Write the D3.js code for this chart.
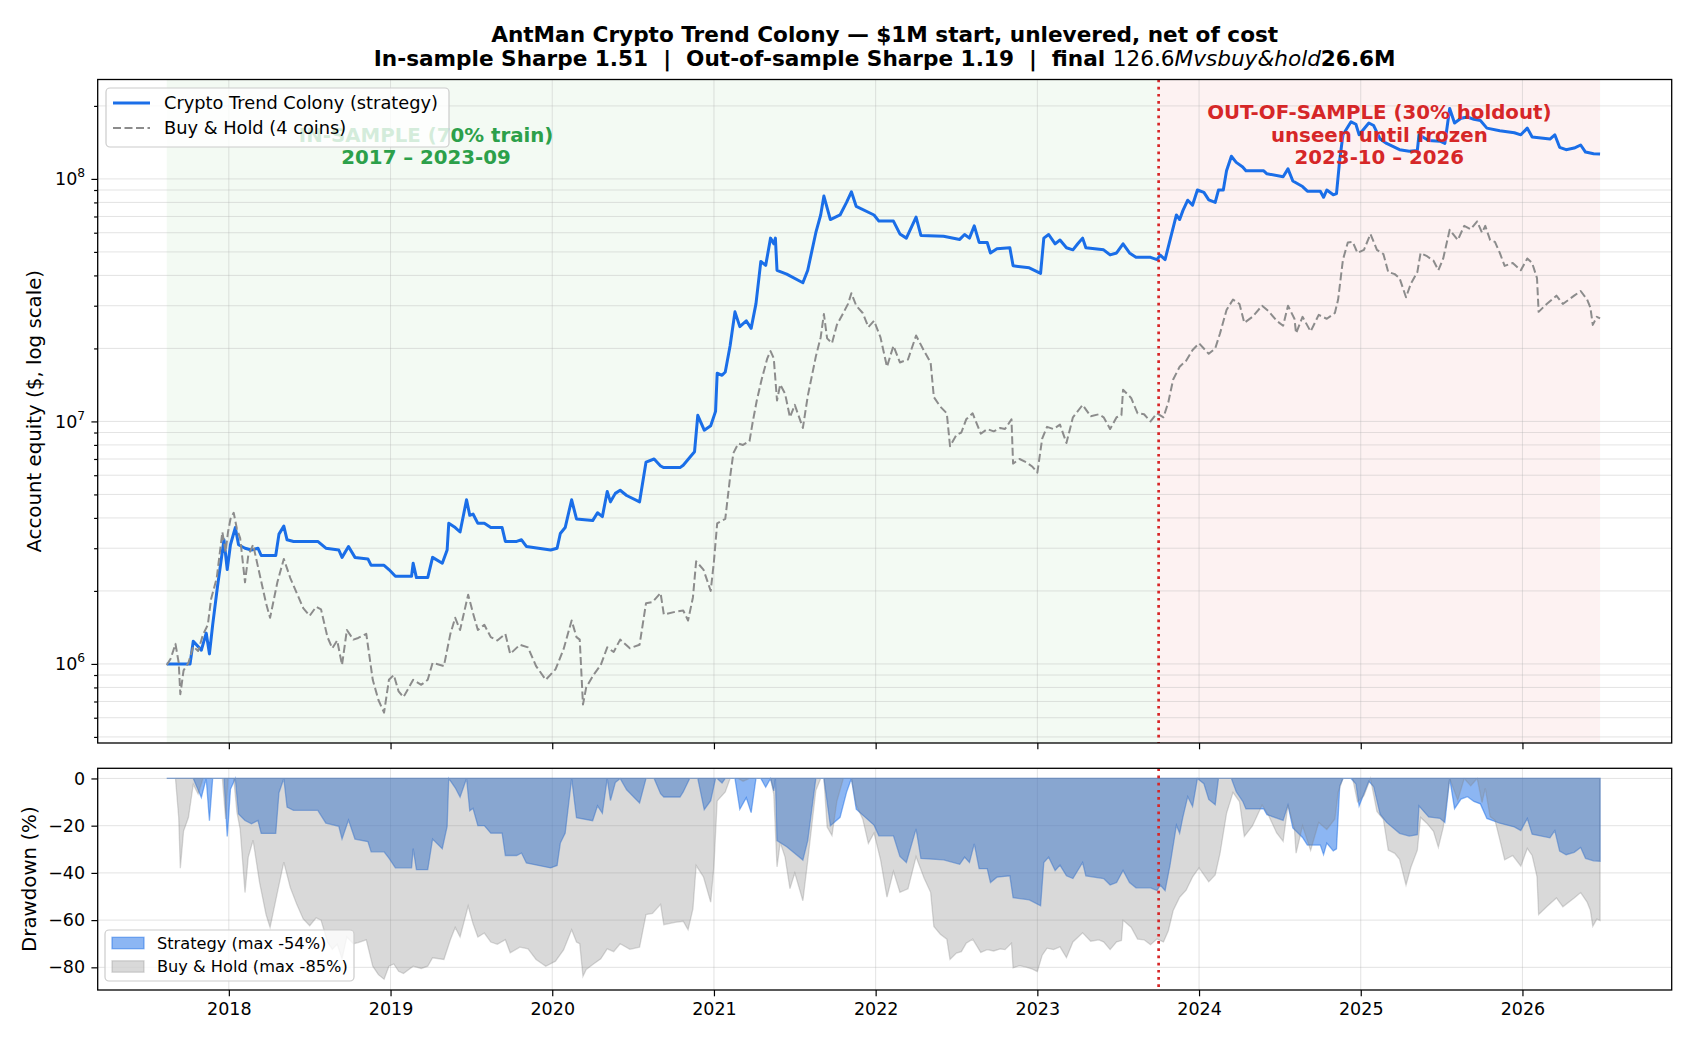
<!DOCTYPE html>
<html lang="en">
<head>
<meta charset="UTF-8">
<title>AntMan Crypto Trend Colony</title>
<script src="https://cdn.jsdelivr.net/npm/d3@7"></script>
<style>
  body { margin: 0; background: #fff; }
  svg text { font-family: "DejaVu Sans", sans-serif; }
</style>
</head>
<body>
<svg id="chart" width="1690" height="1040"></svg>
<script>
// ---- data (decimal years, equity in $M) ----
const stratYears = [2017.616,2017.76,2017.78,2017.83,2017.86,2017.88,2017.90,2017.93,2017.97,2017.99,
  2018.01,2018.04,2018.06,2018.10,2018.14,2018.18,2018.20,2018.29,2018.31,2018.34,
  2018.36,2018.40,2018.55,2018.60,2018.68,2018.70,2018.74,2018.78,2018.86,2018.88,
  2018.96,2018.99,2019.03,2019.13,2019.14,2019.16,2019.23,2019.26,2019.32,2019.35,
  2019.36,2019.40,2019.43,2019.47,2019.49,2019.51,2019.54,2019.58,2019.62,2019.69,
  2019.71,2019.78,2019.81,2019.84,2019.99,2020.03,2020.05,2020.08,2020.12,2020.15,
  2020.25,2020.28,2020.31,2020.34,2020.36,2020.39,2020.42,2020.46,2020.54,2020.58,
  2020.63,2020.67,2020.69,2020.79,2020.81,2020.85,2020.88,2020.90,2020.94,2020.98,
  2021.01,2021.02,2021.05,2021.07,2021.10,2021.13,2021.16,2021.20,2021.23,2021.26,
  2021.29,2021.32,2021.35,2021.37,2021.38,2021.39,2021.45,2021.55,2021.58,2021.63,
  2021.66,2021.68,2021.72,2021.78,2021.82,2021.85,2021.88,2021.99,2022.02,2022.11,
  2022.15,2022.19,2022.25,2022.28,2022.42,2022.52,2022.55,2022.58,2022.61,2022.64,
  2022.69,2022.71,2022.75,2022.83,2022.85,2022.95,2023.02,2023.04,2023.07,2023.11,
  2023.14,2023.18,2023.22,2023.25,2023.28,2023.30,2023.41,2023.45,2023.49,2023.53,
  2023.57,2023.61,2023.70,2023.74,2023.76,2023.79,2023.82,2023.86,2023.88,2023.90,
  2023.93,2023.96,2023.99,2024.03,2024.06,2024.10,2024.12,2024.15,2024.17,2024.20,
  2024.23,2024.27,2024.29,2024.40,2024.42,2024.52,2024.55,2024.58,2024.64,2024.67,
  2024.75,2024.77,2024.79,2024.83,2024.85,2024.87,2024.89,2024.94,2024.97,2024.99,
  2025.05,2025.08,2025.12,2025.16,2025.24,2025.30,2025.35,2025.36,2025.42,2025.49,
  2025.52,2025.55,2025.58,2025.62,2025.66,2025.70,2025.74,2025.78,2025.86,2025.95,
  2025.99,2026.03,2026.06,2026.17,2026.20,2026.23,2026.27,2026.32,2026.36,2026.39,
  2026.44,2026.48];
const stratEquityM = [1.00,1.00,1.24,1.14,1.34,1.10,1.45,2.09,3.25,2.45,
  3.10,3.65,3.10,3.00,2.95,3.00,2.80,2.80,3.43,3.70,
  3.25,3.20,3.20,3.00,2.95,2.75,3.05,2.75,2.71,2.55,
  2.55,2.45,2.30,2.30,2.60,2.27,2.27,2.75,2.60,2.95,
  3.80,3.65,3.50,4.75,4.10,4.15,3.80,3.80,3.65,3.65,
  3.20,3.20,3.25,3.05,2.95,3.00,3.45,3.65,4.75,3.96,
  3.90,4.20,4.05,5.14,4.66,5.05,5.20,4.95,4.66,6.80,
  7.00,6.55,6.45,6.45,6.60,7.10,7.50,10.6,9.2,9.6,
  11.0,15.8,15.5,16.0,20.5,28.3,24.6,26.0,24.2,30.6,
  45.7,44.0,57.0,54.0,57.0,42.0,40.5,37.3,42.0,60.0,
  71.0,85.0,68.0,71.0,80.0,88.5,77.0,71.0,67.0,67.0,
  59.3,57.0,69.6,58.5,58.0,56.3,59.0,57.0,64.0,54.7,
  54.7,49.5,51.5,52.0,43.8,43.0,40.8,57.0,59.0,54.0,
  56.0,52.0,51.0,54.0,57.0,52.0,51.0,48.6,49.5,54.0,
  49.5,47.5,47.5,46.5,48.5,46.5,55.8,71.0,68.0,74.0,
  81.7,78.0,90.0,88.0,82.0,80.0,90.0,90.0,108,124,
  117,112,108,108,105,102,110,98,93,89,
  89,84,90,86,87,120,152,172,168,152,
  170,166,146,140,132,130,131,152,144,143,
  140,195,170,178,180,176,174,162,158,155,
  152,162,149,146,152,135,132,134,138,129,
  127,126.6];

const holdYears = [2017.616,2017.64,2017.67,2017.69,2017.70,2017.72,2017.75,2017.78,2017.81,2017.84,
  2017.87,2017.89,2017.925,2017.96,2017.98,2017.995,2018.01,2018.03,2018.05,2018.07,
  2018.10,2018.12,2018.15,2018.19,2018.23,2018.255,2018.30,2018.34,2018.38,2018.42,
  2018.46,2018.50,2018.54,2018.57,2018.61,2018.64,2018.67,2018.70,2018.73,2018.77,
  2018.80,2018.85,2018.89,2018.925,2018.96,2018.99,2019.02,2019.05,2019.08,2019.14,
  2019.19,2019.23,2019.26,2019.33,2019.37,2019.40,2019.43,2019.48,2019.51,2019.54,
  2019.58,2019.62,2019.66,2019.71,2019.74,2019.80,2019.85,2019.90,2019.96,2020.02,
  2020.07,2020.12,2020.15,2020.17,2020.19,2020.21,2020.255,2020.30,2020.34,2020.38,
  2020.42,2020.48,2020.54,2020.58,2020.62,2020.67,2020.69,2020.76,2020.81,2020.84,
  2020.87,2020.89,2020.935,2020.98,2021.00,2021.02,2021.07,2021.10,2021.12,2021.15,
  2021.18,2021.22,2021.24,2021.265,2021.295,2021.33,2021.35,2021.37,2021.39,2021.41,
  2021.44,2021.47,2021.50,2021.55,2021.58,2021.63,2021.66,2021.68,2021.70,2021.73,
  2021.76,2021.80,2021.83,2021.85,2021.88,2021.92,2021.955,2021.99,2022.03,2022.07,
  2022.11,2022.15,2022.20,2022.25,2022.30,2022.34,2022.36,2022.40,2022.44,2022.46,
  2022.50,2022.53,2022.56,2022.60,2022.65,2022.69,2022.73,2022.77,2022.80,2022.84,
  2022.85,2022.89,2022.93,2022.97,2023.00,2023.03,2023.06,2023.10,2023.14,2023.18,
  2023.22,2023.28,2023.33,2023.38,2023.41,2023.45,2023.49,2023.52,2023.53,2023.58,
  2023.62,2023.66,2023.70,2023.74,2023.78,2023.81,2023.84,2023.88,2023.92,2023.96,
  2024.00,2024.06,2024.10,2024.13,2024.17,2024.21,2024.25,2024.28,2024.33,2024.39,
  2024.43,2024.48,2024.52,2024.55,2024.59,2024.60,2024.64,2024.69,2024.74,2024.79,
  2024.84,2024.86,2024.89,2024.92,2024.95,2024.98,2025.02,2025.06,2025.10,2025.14,
  2025.17,2025.21,2025.24,2025.28,2025.31,2025.35,2025.37,2025.41,2025.45,2025.48,
  2025.51,2025.55,2025.60,2025.64,2025.68,2025.72,2025.75,2025.77,2025.80,2025.83,
  2025.86,2025.89,2025.94,2025.99,2026.03,2026.06,2026.09,2026.10,2026.15,2026.21,
  2026.25,2026.32,2026.36,2026.40,2026.42,2026.435,2026.46,2026.48];
const holdEquityM = [0.99,1.05,1.21,1.01,0.75,0.94,1.01,1.18,1.13,1.32,
  1.45,1.85,2.26,3.50,2.90,3.50,3.96,4.20,3.60,3.30,
  2.17,2.80,3.10,2.35,1.78,1.55,2.17,2.71,2.26,1.96,
  1.70,1.58,1.72,1.68,1.29,1.16,1.25,0.99,1.38,1.26,
  1.28,1.33,0.86,0.71,0.63,0.86,0.90,0.77,0.73,0.86,
  0.82,0.86,1.01,0.98,1.33,1.55,1.38,1.93,1.62,1.38,
  1.45,1.29,1.25,1.33,1.10,1.20,1.17,0.98,0.86,0.95,
  1.15,1.51,1.29,1.26,0.68,0.80,0.90,0.99,1.17,1.12,
  1.26,1.16,1.20,1.78,1.80,1.96,1.60,1.64,1.66,1.51,
  1.88,2.65,2.45,2.00,2.65,3.80,3.96,5.90,7.40,8.10,
  8.0,8.30,9.96,12.2,14.9,18.2,19.5,18.2,12.2,14.2,
  13.0,10.4,11.7,9.4,12.7,18.5,22.2,27.7,22.0,21.0,
  25.0,28.0,30.6,33.8,30.0,28.0,24.5,26.0,22.2,16.8,
  20.5,17.5,18.0,22.6,19.5,17.5,12.6,11.5,10.8,7.9,
  8.8,9.0,10.2,10.8,8.9,9.3,9.1,9.4,9.3,10.2,
  6.7,7.0,6.8,6.5,6.15,8.5,9.5,9.3,9.7,8.15,
  10.4,11.7,10.5,10.7,10.4,9.3,10.4,10.6,13.5,12.5,
  10.8,10.7,10.0,10.8,10.4,12.0,14.9,16.8,17.8,19.7,
  21.0,19.0,20.0,23.1,28.8,31.8,30.5,25.5,27.0,30.0,
  28.5,26.0,24.8,30.0,26.5,23.1,27.0,23.5,27.5,26.5,
  28.0,31.8,46.5,54.7,55.0,49.5,51.0,59.3,51.0,49.0,
  41.3,40.5,39.0,32.5,37.0,41.3,49.5,48.0,46.0,42.0,
  47.0,61.7,56.0,64.0,62.0,66.8,60.0,64.0,56.0,55.0,
  49.5,43.8,45.0,42.0,47.0,45.0,39.0,28.3,30.5,33.0,
  30.5,33.0,34.5,31.8,29.5,25.0,27.0,26.6];

const yearTicks = [2018, 2019, 2020, 2021, 2022, 2023, 2024, 2025, 2026];
const equityTicks = [1e6, 1e7, 1e8];
const drawdownTicks = [0, -20, -40, -60, -80];
const splitYear = 2023.75;
const isLabelYear = 2019.22;

const seriesNames = ["Crypto Trend Colony (strategy)", "Buy & Hold (4 coins)"];
const ddNames = ["Strategy (max -54%)", "Buy & Hold (max -85%)"];
const isLines = ["IN-SAMPLE (70% train)", "2017 \u2013 2023-09"];
const oosLines = ["OUT-OF-SAMPLE (30% holdout)", "unseen until frozen", "2023-10 \u2013 2026"];

// ---- layout ----
const left = 97.7, right = 1671.7;
const mainTop = 79.5, mainBottom = 743;
const ddTop = 768.3, ddBottom = 990;
const blue = "#1a6ee8", grey = "#8c8c8c", green = "#2ca04a", red = "#d62728";
const tickFont = 17.5;

const x = d3.scaleLinear().domain([2017.189, 2026.923]).range([left, right]);
const y = d3.scaleLog().domain([4.72e5, 2.57e8]).range([mainBottom, mainTop]);
const yDD = d3.scaleLinear().domain([-89.6, 4.3]).range([ddBottom, ddTop]);

function withDrawdown(years, vals) {
  let peak = 0;
  return years.map((t, i) => {
    const v = vals[i] * 1e6;
    peak = Math.max(peak, v);
    return {t: t, v: v, dd: (v / peak - 1) * 100};
  });
}
const strat = withDrawdown(stratYears, stratEquityM);
const hold = withDrawdown(holdYears, holdEquityM);
const firstYear = stratYears[0], lastYear = stratYears[stratYears.length - 1];

const svg = d3.select("#chart");
const defs = svg.append("defs");
defs.append("clipPath").attr("id", "clipMain").append("rect")
  .attr("x", left).attr("y", mainTop).attr("width", right - left).attr("height", mainBottom - mainTop);
defs.append("clipPath").attr("id", "clipDD").append("rect")
  .attr("x", left).attr("y", ddTop).attr("width", right - left).attr("height", ddBottom - ddTop);

// ================= main panel =================
const main = svg.append("g");
const mainPlot = main.append("g").attr("clip-path", "url(#clipMain)");

mainPlot.append("rect")
  .attr("x", x(firstYear)).attr("y", mainTop)
  .attr("width", x(splitYear) - x(firstYear)).attr("height", mainBottom - mainTop)
  .attr("fill", "#2ca02c").attr("fill-opacity", 0.055);
mainPlot.append("rect")
  .attr("x", x(splitYear)).attr("y", mainTop)
  .attr("width", x(lastYear) - x(splitYear)).attr("height", mainBottom - mainTop)
  .attr("fill", red).attr("fill-opacity", 0.06);

// grid (major + minor on log axis)
mainPlot.append("g").selectAll("line").data(yearTicks).join("line")
  .attr("x1", d => x(d)).attr("x2", d => x(d)).attr("y1", mainTop).attr("y2", mainBottom)
  .attr("stroke", "#b0b0b0").attr("stroke-opacity", 0.35).attr("stroke-width", 1);
mainPlot.append("g").selectAll("line").data(y.ticks()).join("line")
  .attr("x1", left).attr("x2", right).attr("y1", d => y(d)).attr("y2", d => y(d))
  .attr("stroke", "#b0b0b0").attr("stroke-opacity", 0.35).attr("stroke-width", 1);

const line = d3.line().x(d => x(d.t)).y(d => y(d.v));
mainPlot.append("path").datum(strat).attr("d", line)
  .attr("fill", "none").attr("stroke", blue).attr("stroke-width", 3).attr("stroke-linejoin", "round");
mainPlot.append("path").datum(hold).attr("d", line)
  .attr("fill", "none").attr("stroke", grey).attr("stroke-width", 2)
  .attr("stroke-dasharray", "8,3.5").attr("stroke-linejoin", "round");

mainPlot.append("line")
  .attr("x1", x(splitYear)).attr("x2", x(splitYear)).attr("y1", mainTop).attr("y2", mainBottom)
  .attr("stroke", red).attr("stroke-width", 2.7).attr("stroke-dasharray", "2.7,4.5");

// period annotations
const annoFont = 19.8, annoStep = 22.7, annoBase = 164.4;
main.append("text").attr("x", x(isLabelYear)).attr("text-anchor", "middle")
  .attr("font-size", annoFont).attr("font-weight", "bold").attr("fill", green)
  .selectAll("tspan").data(isLines).join("tspan")
  .attr("x", x(isLabelYear)).attr("y", (d, i) => annoBase - (isLines.length - 1 - i) * annoStep).text(d => d);
const oosX = x((splitYear + lastYear) / 2);
main.append("text").attr("x", oosX).attr("text-anchor", "middle")
  .attr("font-size", annoFont).attr("font-weight", "bold").attr("fill", red)
  .selectAll("tspan").data(oosLines).join("tspan")
  .attr("x", oosX).attr("y", (d, i) => annoBase - (oosLines.length - 1 - i) * annoStep).text(d => d);

// legend
const leg = main.append("g");
leg.append("rect").attr("x", 106).attr("y", 88).attr("width", 343).attr("height", 59).attr("rx", 4)
  .attr("fill", "#fff").attr("fill-opacity", 0.8).attr("stroke", "#cccccc").attr("stroke-width", 1.2);
const legRows = leg.selectAll("g.row").data(seriesNames).join("g").attr("class", "row")
  .attr("transform", (d, i) => `translate(0,${103 + i * 25})`);
legRows.append("line").attr("x1", 113).attr("x2", 150).attr("y1", 0).attr("y2", 0)
  .attr("stroke", (d, i) => i === 0 ? blue : grey)
  .attr("stroke-width", (d, i) => i === 0 ? 3 : 2)
  .attr("stroke-dasharray", (d, i) => i === 0 ? null : "8,3.5");
legRows.append("text").attr("x", 164).attr("y", 0).attr("dy", "0.35em")
  .attr("font-size", 17.8).attr("fill", "#000").text(d => d);

main.append("rect").attr("x", left).attr("y", mainTop).attr("width", right - left).attr("height", mainBottom - mainTop)
  .attr("fill", "none").attr("stroke", "#000").attr("stroke-width", 1.3);

// axes
const gy = main.append("g").attr("transform", `translate(${left},0)`)
  .call(d3.axisLeft(y).tickValues(equityTicks).tickSize(6.3).tickPadding(6.3));
const gyMinor = main.append("g").attr("transform", `translate(${left},0)`)
  .call(d3.axisLeft(y).tickValues(y.ticks().filter(v => !equityTicks.includes(v))).tickSize(3.6).tickFormat(""));
const gxMain = main.append("g").attr("transform", `translate(0,${mainBottom})`)
  .call(d3.axisBottom(x).tickValues(yearTicks).tickSize(6.3).tickFormat(""));
[gy, gyMinor, gxMain].forEach(g => {
  g.select(".domain").remove();
  g.attr("font-size", tickFont).attr("font-family", "DejaVu Sans");
  g.selectAll(".tick line").attr("stroke", "#000").attr("stroke-width", 1.2);
});
gy.selectAll(".tick text").attr("fill", "#000").each(function(d) {
  const t = d3.select(this).text(null);
  t.append("tspan").text("10");
  t.append("tspan").attr("font-size", tickFont * 0.7).attr("dy", "-0.62em").text(Math.round(Math.log10(d)));
});

main.append("text").attr("transform", `translate(34.5,${(mainTop + mainBottom) / 2}) rotate(-90)`)
  .attr("text-anchor", "middle").attr("dominant-baseline", "central")
  .attr("font-size", 19.8).attr("fill", "#000").text("Account equity ($, log scale)");

// title
const title = svg.append("g").attr("font-weight", "bold").attr("font-size", 21.6).attr("fill", "#000");
title.append("text").attr("x", (left + right) / 2).attr("y", 42).attr("text-anchor", "middle")
  .text("AntMan Crypto Trend Colony \u2014 $1M start, unlevered, net of cost");
const t2 = title.append("text").attr("x", (left + right) / 2).attr("y", 65.5).attr("text-anchor", "middle")
  .style("white-space", "pre");
t2.append("tspan").text("In-sample Sharpe 1.51  |  Out-of-sample Sharpe 1.19  |  final ");
t2.append("tspan").attr("font-weight", "normal").text("126.6");
t2.append("tspan").attr("font-weight", "normal").attr("font-style", "italic").text("Mvsbuy&hold");
t2.append("tspan").text("26.6M");

// ================= drawdown panel =================
const dd = svg.append("g");
const ddPlot = dd.append("g").attr("clip-path", "url(#clipDD)");
ddPlot.append("g").selectAll("line").data(yearTicks).join("line")
  .attr("x1", d => x(d)).attr("x2", d => x(d)).attr("y1", ddTop).attr("y2", ddBottom)
  .attr("stroke", "#b0b0b0").attr("stroke-opacity", 0.35).attr("stroke-width", 1);
ddPlot.append("g").selectAll("line").data(drawdownTicks).join("line")
  .attr("x1", left).attr("x2", right).attr("y1", d => yDD(d)).attr("y2", d => yDD(d))
  .attr("stroke", "#b0b0b0").attr("stroke-opacity", 0.35).attr("stroke-width", 1);

const area = d3.area().x(d => x(d.t)).y0(yDD(0)).y1(d => yDD(d.dd));
ddPlot.append("path").datum(strat).attr("d", area)
  .attr("fill", blue).attr("fill-opacity", 0.5).attr("stroke", blue).attr("stroke-opacity", 0.5).attr("stroke-width", 1.3);
ddPlot.append("path").datum(hold).attr("d", area)
  .attr("fill", "#808080").attr("fill-opacity", 0.3).attr("stroke", "#808080").attr("stroke-opacity", 0.3).attr("stroke-width", 1.3);
ddPlot.append("line")
  .attr("x1", x(splitYear)).attr("x2", x(splitYear)).attr("y1", ddTop).attr("y2", ddBottom)
  .attr("stroke", red).attr("stroke-width", 2.7).attr("stroke-dasharray", "2.7,4.5");

const dleg = dd.append("g");
dleg.append("rect").attr("x", 105).attr("y", 930).attr("width", 249).attr("height", 51).attr("rx", 4)
  .attr("fill", "#fff").attr("fill-opacity", 0.8).attr("stroke", "#cccccc").attr("stroke-width", 1.2);
const dRows = dleg.selectAll("g.row").data(ddNames).join("g").attr("class", "row")
  .attr("transform", (d, i) => `translate(0,${943 + i * 23.5})`);
dRows.append("rect").attr("x", 112).attr("y", -5.7).attr("width", 32).attr("height", 11.4)
  .attr("fill", (d, i) => i === 0 ? blue : "#808080")
  .attr("fill-opacity", (d, i) => i === 0 ? 0.5 : 0.3)
  .attr("stroke", (d, i) => i === 0 ? blue : "#808080")
  .attr("stroke-opacity", (d, i) => i === 0 ? 0.5 : 0.3).attr("stroke-width", 1.3);
dRows.append("text").attr("x", 157).attr("y", 0).attr("dy", "0.35em")
  .attr("font-size", 16.2).attr("fill", "#000").text(d => d);

dd.append("rect").attr("x", left).attr("y", ddTop).attr("width", right - left).attr("height", ddBottom - ddTop)
  .attr("fill", "none").attr("stroke", "#000").attr("stroke-width", 1.3);

const gyDD = dd.append("g").attr("transform", `translate(${left},0)`)
  .call(d3.axisLeft(yDD).tickValues(drawdownTicks).tickSize(6.3).tickPadding(6.3)
    .tickFormat(d => d === 0 ? "0" : "\u2212" + Math.abs(d)));
const gxDD = dd.append("g").attr("transform", `translate(0,${ddBottom})`)
  .call(d3.axisBottom(x).tickValues(yearTicks).tickSize(6.3).tickPadding(6.3).tickFormat(d3.format("d")));
[gyDD, gxDD].forEach(g => {
  g.select(".domain").remove();
  g.attr("font-size", tickFont).attr("font-family", "DejaVu Sans");
  g.selectAll(".tick line").attr("stroke", "#000").attr("stroke-width", 1.2);
  g.selectAll(".tick text").attr("fill", "#000");
});

dd.append("text").attr("transform", `translate(29,${(ddTop + ddBottom) / 2}) rotate(-90)`)
  .attr("text-anchor", "middle").attr("dominant-baseline", "central")
  .attr("font-size", 19.8).attr("fill", "#000").text("Drawdown (%)");
</script>
</body>
</html>
